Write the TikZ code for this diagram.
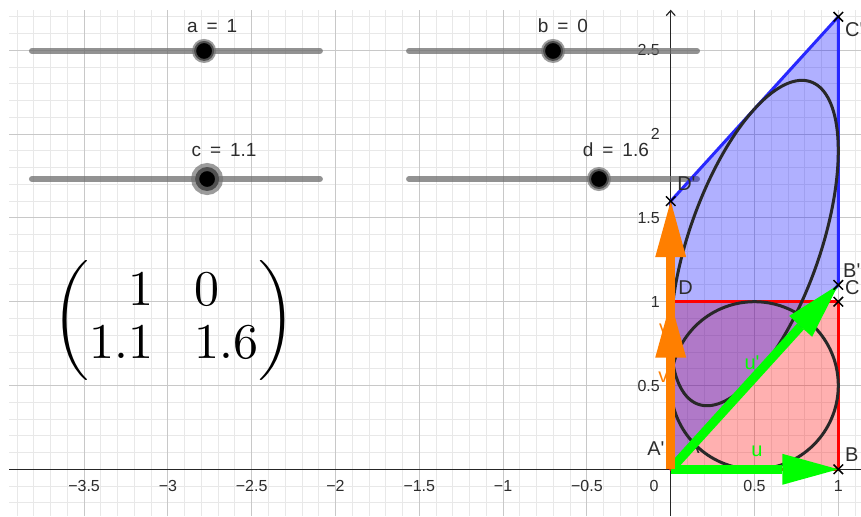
\documentclass[tikz,border=0pt]{standalone}
\usepackage{fontspec}
\usepackage{graphicx}
\newfontfamily\gsans{Liberation Sans}
\newfontfamily\gsansw[WordSpace=1.7]{Liberation Sans}
\usetikzlibrary{arrows.meta,shapes.misc}
\definecolor{gorange}{RGB}{255,127,0}
\definecolor{ggreen}{RGB}{0,255,0}
\definecolor{gtext}{RGB}{45,45,45}
\definecolor{minorgrid}{RGB}{232,232,232}
\definecolor{majorgrid}{RGB}{200,200,200}
\definecolor{sliderline}{RGB}{110,110,110}
\definecolor{gblue}{RGB}{40,40,255}
\definecolor{gred}{RGB}{255,0,0}
\definecolor{curvecol}{RGB}{40,40,40}
\begin{document}
\begin{tikzpicture}[x=167.6pt,y=167.6pt,
  ticklab/.style={font=\gsans\fontsize{16}{16}\selectfont, text=gtext, inner sep=0pt},
  ptlab/.style={font=\gsans\fontsize{20}{20}\selectfont, text=gtext, inner sep=0pt, anchor=west},
  veclab/.style={font=\gsans\fontsize{20}{20}\selectfont, inner sep=0pt},
  slab/.style={font=\gsansw\fontsize{19}{19}\selectfont, text=gtext, inner sep=0pt},
  sliderbar/.style={line width=6pt, draw=sliderline, draw opacity=0.75, line cap=round},
  knob/.style={circle, fill=black, draw=black!55, draw opacity=0.7, line width=4pt, minimum size=20pt, inner sep=0pt},
  knobsel/.style={knob, line width=8pt, minimum size=24pt},
  ptmark/.style={cross out, draw=black, line width=1.5pt, minimum size=8pt, inner sep=0pt},
  curve/.style={draw=curvecol, line width=3pt},
  vecu/.style={draw=ggreen, line width=9pt, -{Triangle[length=56pt,width=31pt,line width=0pt]}},
  vecv/.style={draw=gorange, line width=9pt, -{Triangle[length=56pt,width=31pt,line width=0pt]}},
  bluefill/.style={fill=blue, fill opacity=0.31},
  redfill/.style={fill=red, fill opacity=0.31},
  blueedge/.style={draw=gblue, line width=3pt, line join=round},
  rededge/.style={draw=gred, line width=2.8pt, line join=round}
]
\useasboundingbox[fill=white] (-4.0018,-0.2787) rectangle (1.1354,2.8001);
% grid
\draw[minorgrid, line width=0.9pt, step=0.1] (-3.948,-0.2787) grid (1.1354,2.740);
\draw[majorgrid, line width=1.1pt, step=0.5] (-3.948,-0.2787) grid (1.1354,2.740);
% axes
\coordinate (xl) at (-3.948,0);
\coordinate (xr) at (1.1354,0);
\coordinate (yb) at (0,-0.2787);
\coordinate (yt) at (0,2.742);
\draw[line width=1.5pt, draw=black!85] (xl) -- (xr);
\draw[line width=1.5pt, draw=black!85, -{Straight Barb[length=5pt,width=9pt,line width=1.2pt]}] (yb) -- (yt);
% tick labels
\foreach \v/\t in {-3.5/−3.5,-3/−3,-2.5/−2.5,-2/−2,-1.5/−1.5,-1/−1,-0.5/−0.5,0.5/0.5,1/1}
  \node[ticklab] (tx\v) at (\v,-0.1) {\t};
\node[ticklab] (tx0) at (-0.099,-0.1) {0};
\foreach \v in {0.5,1,1.5,2,2.5}
  \node[ticklab, anchor=east] (ty\v) at (-0.064,\v) {\v};
% sliders
\coordinate (sa1) at (-3.811,2.496); \coordinate (sa2) at (-2.093,2.496);
\coordinate (sb1) at (-1.561,2.496); \coordinate (sb2) at (0.157,2.496);
\coordinate (sc1) at (-3.811,1.732); \coordinate (sc2) at (-2.093,1.732);
\coordinate (sd1) at (-1.561,1.732); \coordinate (sd2) at (0.157,1.732);
\draw[sliderbar] (sa1) -- (sa2);
\draw[sliderbar] (sb1) -- (sb2);
\draw[sliderbar] (sc1) -- (sc2);
\draw[sliderbar] (sd1) -- (sd2);
\node[knob] (ka) at (-2.784,2.496) {};
\node[knob] (kb) at (-0.702,2.496) {};
\node[knobsel] (kc) at (-2.766,1.732) {};
\node[knob] (kd) at (-0.428,1.732) {};
\node[slab] (la) at (-2.736,2.645) {a = 1};
\node[slab] (lb) at (-0.643,2.645) {b = 0};
\node[slab] (lc) at (-2.665,1.905) {c = 1.1};
\node[slab] (ld) at (-0.327,1.905) {d = 1.6};
% matrix
\node[inner sep=0pt] (mat) at (-2.964,0.885) {\scalebox{5}{\renewcommand{\arraystretch}{0.883}\setlength{\arraycolsep}{4.1pt}$\biggl(\begin{array}{@{}rl@{}}1 & 0\\ 1.1 & 1.6\end{array}\biggr)$}};
% points
\coordinate (O) at (0,0);
\coordinate (B) at (1,0);
\coordinate (C) at (1,1);
\coordinate (D) at (0,1);
\coordinate (Bp) at (1,1.1);
\coordinate (Cp) at (1,2.7);
\coordinate (Dp) at (0,1.6);
\coordinate (M) at (0.5,0.5);
% polygons
\fill[redfill] (O) -- (B) -- (C) -- (D) -- cycle;
\fill[bluefill] (O) -- (Bp) -- (Cp) -- (Dp) -- cycle;
\draw[blueedge] (O) -- (Bp) -- (Cp) -- (Dp) -- cycle;
\draw[rededge] (O) -- (B) -- (C) -- (D) -- cycle;
% circle and its image
\draw[curve] (M) circle[radius=0.5];
\draw[curve] plot[domain=0:360, samples=150, smooth] ({0.5+0.5*cos(\x)},{1.35+0.55*cos(\x)+0.8*sin(\x)});
% label under vectors
\node[ptlab] (lA) at (0.092,0.138) {A};
% vectors
\draw[vecu] (O) -- (B);
\draw[vecu] (O) -- (Bp);
\draw[vecv] (O) -- (Dp);
\draw[vecv] (O) -- (D);
% point marks
\node[ptmark] (mB) at (B) {};
\node[ptmark] (mC) at (C) {};
\node[ptmark] (mBp) at (Bp) {};
\node[ptmark] (mCp) at (Cp) {};
\node[ptmark] (mDp) at (Dp) {};
% labels
\node[ptlab] (lCp) at (1.040,2.621) {C'};
\node[ptlab] (lC) at (1.040,1.083) {C};
\node[ptlab] (lBp) at (1.028,1.184) {B'};
\node[ptlab] (lB) at (1.040,0.085) {B};
\node[ptlab] (lAp) at (-0.141,0.121) {A'};
\node[ptlab] (lD) at (0.044,1.083) {D};
\node[ptlab] (lDp) at (0.038,1.707) {D'};
\node[veclab, text=ggreen] (lu) at (0.515,0.109) {u};
\node[veclab, text=ggreen] (lup) at (0.485,0.635) {u'};
\node[veclab, text=gorange] (lv) at (-0.044,0.552) {v};
\node[veclab, text=gorange] (lvp) at (-0.028,0.843) {v'};
\end{tikzpicture}
\end{document}
